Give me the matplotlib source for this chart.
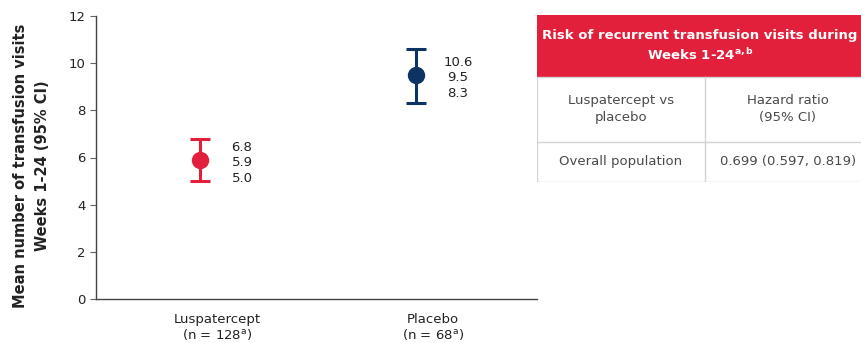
import matplotlib
matplotlib.use("Agg")
import matplotlib.pyplot as plt
from matplotlib.patches import Rectangle

# data
groups = ["Luspatercept\n(n = 128$^{\\mathregular{a}}$)", "Placebo\n(n = 68$^{\\mathregular{a}}$)"]
means = [5.9, 9.5]
lower = [5.0, 8.3]
upper = [6.8, 10.6]
colors = ["#e3203c", "#0c3363"]
yticks = [0, 2, 4, 6, 8, 10, 12]

table_title = "Risk of recurrent transfusion visits during\nWeeks 1-24$^{\\mathregular{a,b}}$"
table_head = ["Luspatercept vs\nplacebo", "Hazard ratio\n(95% CI)"]
table_row = ["Overall population", "0.699 (0.597, 0.819)"]

plt.rcParams["font.family"] = ["DejaVu Sans"]

W, H = 861, 343
fig = plt.figure(figsize=(W / 100, H / 100), dpi=100)

# main axes, positioned in pixels
ax = fig.add_axes([96 / W, 1 - 299 / H, (537 - 96) / W, (299 - 16) / H])
ax.set_xlim(-104 / 216, 1 + 121 / 216)
ax.set_ylim(0, 12)

for i, (m, lo, hi, c) in enumerate(zip(means, lower, upper, colors)):
    ax.errorbar(i, m, yerr=[[m - lo], [hi - m]], fmt="o", color=c, ecolor=c,
                markersize=11.5, elinewidth=2.2, capsize=7.5, capthick=2.2, zorder=3)
    ax.annotate(f"{hi:.1f}\n{m:.1f}\n{lo:.1f}", xy=(i, m), xytext=(42, -3),
                textcoords="offset pixels", ha="center", va="center",
                fontsize=9.5, color="#222222", linespacing=1.25)

for s in ["top", "right"]:
    ax.spines[s].set_visible(False)
for s in ["left", "bottom"]:
    ax.spines[s].set_color("#444444")
    ax.spines[s].set_linewidth(1.0)

ax.set_yticks(yticks)
ax.tick_params(axis="y", length=4.5, color="#666666", labelsize=9.5, labelcolor="#222222", pad=3)
ax.set_xticks([i + 0.08 for i in range(len(groups))])
ax.set_xticklabels(groups, fontsize=9.5, color="#222222", linespacing=1.1)
ax.tick_params(axis="x", length=0, pad=10)

ax.set_ylabel("Mean number of transfusion visits\nWeeks 1-24 (95% CI)", fontsize=10.5,
              fontweight="bold", color="#222222", labelpad=11, linespacing=1.6)
ax.yaxis.set_label_coords(-0.104, 0.47)

# table drawn in pixel coordinates
tx0, ty0, tx1, ty1 = 537, 15, 871, 182
tab = fig.add_axes([tx0 / W, 1 - ty1 / H, (tx1 - tx0) / W, (ty1 - ty0) / H])
tab.set_xlim(tx0, tx1)
tab.set_ylim(ty1, ty0)
tab.axis("off")

border = "#d4d4d4"
tab.add_patch(Rectangle((tx0, ty0), tx1 - tx0, 77 - ty0, facecolor=colors[0], edgecolor="none"))
tab.add_patch(Rectangle((tx0 + 0.5, 77), tx1 - tx0, ty1 - 77.5, facecolor="white", edgecolor=border, lw=1))
tab.plot([705, 705], [77, ty1], color=border, lw=1)
tab.plot([tx0, tx1], [142, 142], color=border, lw=1)

tab.text(700, 46, table_title, ha="center", va="center", color="white",
         fontsize=9.5, fontweight="bold", linespacing=1.35)
tab.text(621, 109, table_head[0], ha="center", va="center", color="#4a4a4a", fontsize=9.5, linespacing=1.35)
tab.text(788, 109, table_head[1], ha="center", va="center", color="#4a4a4a", fontsize=9.5, linespacing=1.35)
tab.text(621, 162, table_row[0], ha="center", va="center", color="#4a4a4a", fontsize=9.5)
tab.text(788, 162, table_row[1], ha="center", va="center", color="#4a4a4a", fontsize=9.5)

fig.savefig("out.png", dpi=100)
